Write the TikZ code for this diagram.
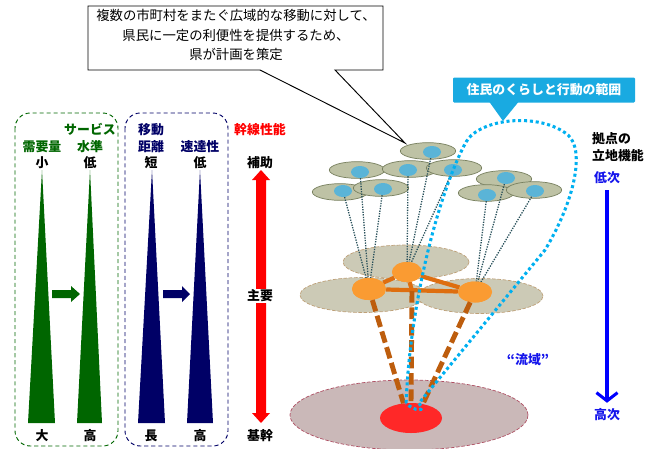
\documentclass[tikz,border=0pt]{standalone}
\usepackage{fontspec}
\setmainfont{Noto Sans CJK JP}
\usetikzlibrary{shapes.geometric, arrows.meta, positioning}
\definecolor{kgreen}{RGB}{0,102,0}
\definecolor{knavy}{RGB}{0,0,102}
\definecolor{kred}{RGB}{255,0,0}
\definecolor{kblue}{RGB}{20,20,235}
\definecolor{kcyan}{RGB}{25,170,225}
\definecolor{kdot}{RGB}{0,176,240}
\definecolor{kdisk}{RGB}{190,194,165}
\definecolor{kdiskline}{RGB}{120,128,95}
\definecolor{kplate}{RGB}{204,202,182}
\definecolor{kplateline}{RGB}{190,160,120}
\definecolor{kbase}{RGB}{202,184,184}
\definecolor{kbaseline}{RGB}{175,80,100}
\definecolor{khub}{RGB}{255,40,40}
\definecolor{kspot}{RGB}{90,180,215}
\definecolor{korange}{RGB}{250,155,50}
\definecolor{kline}{RGB}{222,110,15}
\definecolor{klink}{RGB}{40,80,90}
\begin{document}
\begin{tikzpicture}[x=0.03cm,y=-0.03cm,
    lbl/.style={font=\fontsize{11}{14.5}\selectfont\bfseries, inner sep=0pt, align=center},
    gbox/.style={draw=kgreen, line width=0.8pt, dash pattern=on 3.5pt off 2.5pt, rounded corners=13pt},
    nbox/.style={draw=knavy, line width=0.8pt, dash pattern=on 3.5pt off 2.5pt, rounded corners=13pt},
    disk/.style={ellipse, draw=kdiskline, fill=kdisk, line width=0.6pt, minimum width=1.66cm, minimum height=0.5cm, inner sep=0pt},
    spot/.style={ellipse, fill=kspot, minimum width=0.54cm, minimum height=0.36cm, inner sep=0pt},
    plate/.style={ellipse, draw=kplateline, fill=kplate, line width=0.6pt, dash pattern=on 3pt off 1.5pt, minimum width=3.78cm, minimum height=1.02cm, inner sep=0pt},
    hubnode/.style={ellipse, fill=korange, inner sep=0pt},
    link/.style={draw=klink, line width=1.1pt, dash pattern=on 1.1pt off 1.1pt},
    edge/.style={draw=kline, line width=3.6pt},
    trunk/.style={draw=kline!85!black, line width=4.2pt, dash pattern=on 10pt off 4pt},
    loop/.style={draw=kdot, line width=2.6pt, dash pattern=on 2.6pt off 2.4pt}]
\useasboundingbox (0,0) rectangle (651,448);

% 左側の枠
\draw[gbox] (15,113) rectangle (118,446);
\draw[nbox] (125,113) rectangle (228,446);

% 見出し
\node[lbl, text=kgreen] (demand) at (42,147) {需要量};
\node[lbl, text=kgreen] (service) at (90,138) {サービス\\水準};
\node[lbl, text=knavy] (dist) at (151,138) {移動\\距離};
\node[lbl, text=knavy] (speed) at (200,147) {速達性};
\node[lbl, text=kred] (trunkperf) at (260,130) {幹線性能};
\node[lbl] (d1top) at (42,163) {小};
\node[lbl] (s1top) at (90,163) {低};
\node[lbl] (m1top) at (151,163) {短};
\node[lbl] (v1top) at (200,163) {低};
\node[lbl] (aux) at (260,163) {補助};
\node[lbl] (d1bot) at (42,436) {大};
\node[lbl] (s1bot) at (90,436) {高};
\node[lbl] (m1bot) at (151,436) {長};
\node[lbl] (v1bot) at (200,436) {高};
\node[lbl] (core) at (260,436) {基幹};

% くさび
\fill[kgreen] (42,170) -- (55,423) -- (28,423) -- cycle;
\fill[kgreen] (90,170) -- (102,423) -- (77,423) -- cycle;
\fill[knavy] (152,170) -- (165,423) -- (138,423) -- cycle;
\fill[knavy] (200,170) -- (213,423) -- (187,423) -- cycle;
\fill[kgreen] (52,290) -- (71,290) -- (71,286) -- (80,294) -- (71,302) -- (71,298) -- (52,298) -- cycle;
\fill[knavy] (163,290) -- (182,290) -- (182,286) -- (190,294) -- (182,302) -- (182,298) -- (163,298) -- cycle;
\fill[kred] (261,170) -- (270,180) -- (266,180) -- (266,413) -- (270,413) -- (261,423)
  -- (252,413) -- (256,413) -- (256,180) -- (252,180) -- cycle;
\node[lbl, fill=white, inner sep=1pt] (main) at (260,296) {主要};

% 吹き出し
\coordinate (calltip) at (405,143);
\draw[fill=white, line width=0.8pt] (260,70) -- (88,70) -- (88,6) -- (383,6) -- (383,70) -- (335,70) -- (calltip) -- cycle;
\node[font=\fontsize{11.4}{17}\selectfont, align=center] (note) at (236,35)
  {複数の市町村をまたぐ広域的な移動に対して、\\県民に一定の利便性を提供するため、\\県が計画を策定};

% 範囲の見出し
\node[fill=kcyan, text=white, font=\fontsize{11}{13}\selectfont\bfseries, rounded corners=1pt,
  minimum width=5.46cm, minimum height=0.75cm, inner sep=0pt] (range) at (544,90) {住民のくらしと行動の範囲};
\fill[kcyan] (488,100) -- (503,121) -- (520,100) -- cycle;

% 右の軸
\node[lbl, anchor=west, align=left] (func) at (592,147) {拠点の\\立地機能};
\node[lbl, text=kblue] (low) at (607,178) {低次};
\node[lbl, text=kblue] (high) at (607,415) {高次};
\draw[blue, line width=2.6pt, shorten <=5pt, shorten >=5pt, -{Straight Barb[length=7pt,width=18pt,line width=2.6pt]}] (low) -- (high);

% 基幹の拠点
\node[ellipse, draw=kbaseline, fill=kbase, line width=0.6pt, dash pattern=on 3pt off 1.5pt,
  minimum width=7.14cm, minimum height=2.1cm] (base) at (409,415) {};
\node[ellipse, fill=khub, minimum width=1.86cm, minimum height=0.9cm, inner sep=0pt] (hub) at (411,418) {};

% 小さな拠点
\foreach \n/\x/\y/\sx/\sy in {1/428/151/432/152, 2/357/170/360/172, 3/410/169/408/170,
    4/454/168/453/170, 5/340/192/343/191, 6/381/188/383/189, 7/504/179/506/178,
    8/486/193/487/195, 9/534/190/535/191}{
  \node[disk] (d\n) at (\x,\y) {};
  \node[spot] (p\n) at (\sx,\sy) {};
}

% 主要な拠点
\node[plate] (mB) at (406,262) {};
\node[plate, minimum height=1.05cm] (mL) at (363,295) {};
\node[plate, minimum height=1.05cm] (mR) at (480,296) {};

\node[hubnode, minimum width=0.9cm, minimum height=0.6cm] (oT) at (407,272) {};
\node[hubnode, minimum width=1.02cm, minimum height=0.66cm] (oL) at (369,289) {};
\node[hubnode, minimum width=1.02cm, minimum height=0.63cm] (oR) at (475,292) {};
\coordinate (mid) at (412,291);

\foreach \a/\b in {p5/oL, p2/oL, p6/oL, p3/oT, p1/oT, p4/oT, p8/oR, p7/oR, p9/oR}
  \draw[link] (\a) -- (\b);

\draw[edge] (oT) -- (oL);
\draw[edge] (oT) -- (oR);
\draw[edge] (oL) -- (oR);
\draw[edge] (oT) -- (mid);
\node[hubnode, minimum width=0.9cm, minimum height=0.6cm] at (oT) {};
\node[hubnode, minimum width=1.02cm, minimum height=0.66cm] at (oL) {};
\node[hubnode, minimum width=1.02cm, minimum height=0.63cm] at (oR) {};

\draw[trunk] (oL) -- (hub.117);
\draw[trunk] (mid) -- (hub.north);
\draw[trunk] (oR) -- (hub.50);

% 流域
\node[font=\fontsize{11}{13}\selectfont\bfseries, text=kblue] (basin) at (528,360) {“流域”};
\draw[loop] (hub.108) .. controls (410,300) and (440,190) .. (466,142)
  .. controls (480,118) and (540,112) .. (568,135)
  .. controls (585,150) and (575,200) .. (545,250) -- (hub.62)
  .. controls (428,412) and (414,412) .. (hub.108);
\end{tikzpicture}
\end{document}
